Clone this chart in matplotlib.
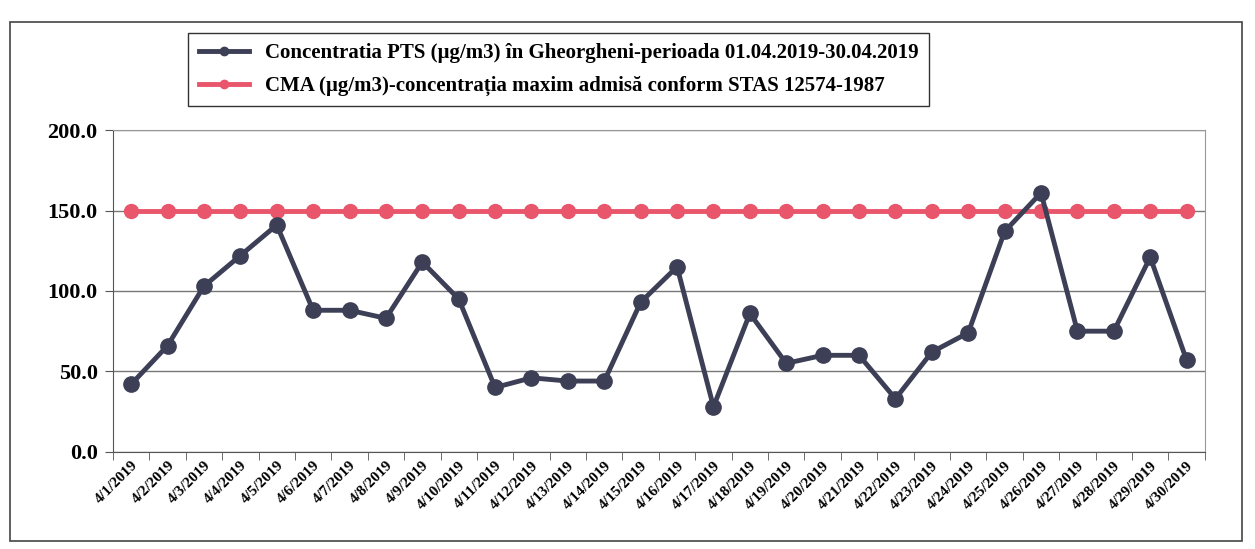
import matplotlib
matplotlib.use("Agg")
from matplotlib import pyplot as plt
from matplotlib.patches import Rectangle

# Data
dates = ['4/%d/2019' % d for d in range(1, 31)]
pts = [42, 66, 103, 122, 141, 88, 88, 83, 118, 95,
       40, 46, 44, 44, 93, 115, 28, 86, 55, 60,
       60, 33, 62, 74, 137, 161, 75, 75, 121, 57]
cma = [150] * 30

label_pts = 'Concentratia PTS (µg/m3) în Gheorgheni-perioada 01.04.2019-30.04.2019'
label_cma = 'CMA (µg/m3)-concentrația maxim admisă conform STAS 12574-1987'

plt.rcParams['font.family'] = ['Liberation Serif', 'DejaVu Serif']
plt.rcParams['font.weight'] = 'bold'

fig = plt.figure(figsize=(12.55, 5.49), dpi=100)
ax = fig.add_axes([0.090, 0.177, 0.870, 0.586])

x = list(range(len(dates)))
l1, = ax.plot(x, pts, color='#3c3f55', lw=3.5, marker='o', ms=11, zorder=3)
l2, = ax.plot(x, cma, color='#e9566b', lw=3.5, marker='o', ms=10, zorder=2)

ax.set_ylim(0, 200)
ax.set_yticks([0, 50, 100, 150, 200])
ax.set_yticklabels(['%.1f' % v for v in [0, 50, 100, 150, 200]], fontsize=16, fontweight='bold')
ax.set_xlim(-0.5, len(dates) - 0.5)
ax.set_xticks(x)
ax.set_xticklabels(dates, rotation=45, ha='right', rotation_mode='anchor', fontsize=11, fontweight='bold')
ax.tick_params(axis='x', length=0, pad=5)
ax.set_xticks([i - 0.5 for i in range(len(dates) + 1)], minor=True)
ax.tick_params(axis='x', which='minor', length=6, color='#555555')
ax.tick_params(axis='y', length=6, color='#555555', pad=5)
ax.yaxis.grid(True, color='#777777', lw=1)
ax.set_axisbelow(True)
for s in ['top', 'right']:
    ax.spines[s].set_color('#999999')
for s in ['left', 'bottom']:
    ax.spines[s].set_color('#555555')

leg = fig.legend([l1, l2], [label_pts, label_cma], loc='upper left',
                 bbox_to_anchor=(0.150, 0.940), borderaxespad=0, frameon=True,
                 fancybox=False, edgecolor='black', fontsize=15, handlelength=2.4,
                 borderpad=0.5, labelspacing=0.6)
leg.get_frame().set_linewidth(1.0)
for m in leg.legend_handles:
    m.set_markersize(6)

fig.patches.append(Rectangle((0.008, 0.015), 0.982, 0.945, transform=fig.transFigure,
                             fill=False, edgecolor='#444444', lw=1.2))

fig.savefig('out.png', dpi=100)
